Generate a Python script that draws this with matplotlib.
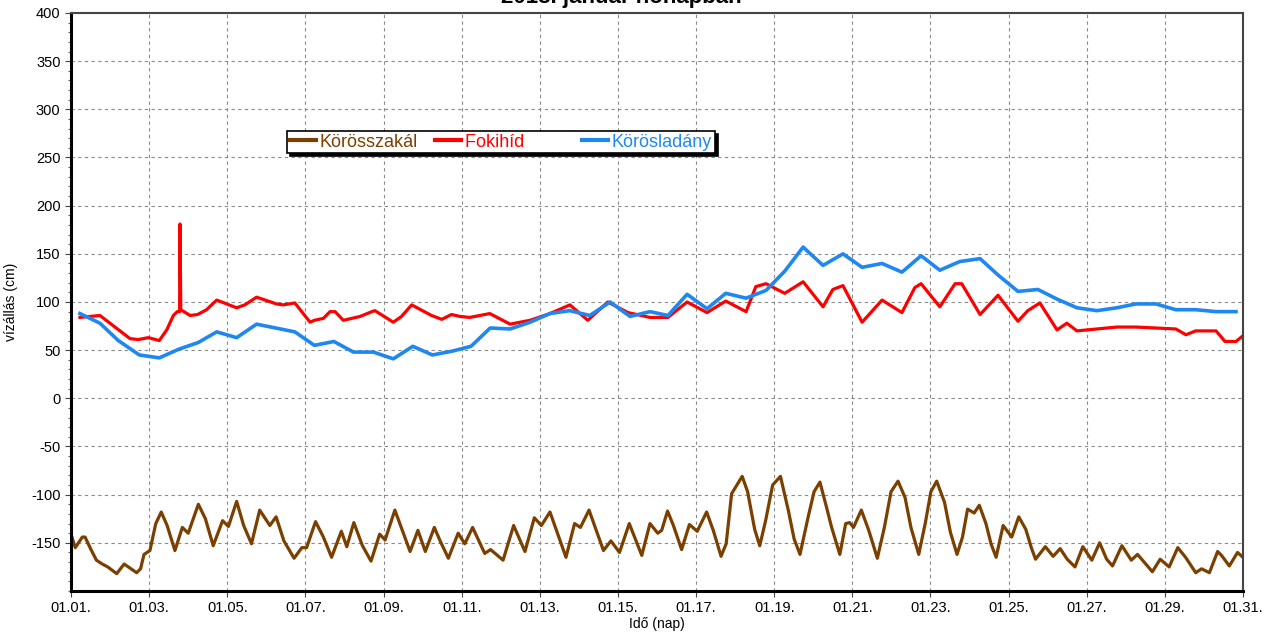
import matplotlib
matplotlib.use("Agg")
import matplotlib.pyplot as plt
from matplotlib.ticker import MultipleLocator

plt.rcParams['font.family'] = ['Liberation Sans', 'DejaVu Sans']
plt.rcParams['axes.unicode_minus'] = False

# napok 01.01. 00:00-tol szamolva
tick_days = list(range(0, 31, 2))
tick_labels = ['01.%02d.' % (d + 1) for d in tick_days]

szakal_days = [0.0, 0.11, 0.29, 0.36, 0.5, 0.65, 0.8, 0.94, 1.17, 1.36, 1.68, 1.78, 1.87, 2.02,
               2.17, 2.31, 2.46, 2.66, 2.85, 3.0, 3.26, 3.44, 3.64, 3.88, 4.03, 4.24, 4.42, 4.62,
               4.83, 5.09, 5.25, 5.45, 5.71, 5.91, 6.03, 6.26, 6.46, 6.67, 6.92, 7.06, 7.24, 7.46,
               7.68, 7.9, 8.04, 8.29, 8.48, 8.68, 8.88, 9.07, 9.3, 9.46, 9.66, 9.91, 10.08, 10.28,
               10.59, 10.74, 11.06, 11.33, 11.62, 11.86, 12.04, 12.26, 12.67, 12.89, 13.04, 13.26,
               13.63, 13.82, 14.04, 14.29, 14.61, 14.82, 15.02, 15.12, 15.27, 15.42, 15.63, 15.83,
               16.03, 16.27, 16.44, 16.64, 16.77, 16.91, 17.18, 17.32, 17.5, 17.63, 17.78, 17.96,
               18.16, 18.36, 18.51, 18.66, 18.87, 19.02, 19.17, 19.32, 19.47, 19.68, 19.83, 19.93,
               20.03, 20.23, 20.42, 20.64, 20.82, 20.99, 21.17, 21.35, 21.5, 21.7, 21.87, 22.01,
               22.16, 22.36, 22.51, 22.68, 22.82, 22.95, 23.12, 23.25, 23.42, 23.55, 23.68, 23.86,
               24.08, 24.26, 24.44, 24.59, 24.69, 24.94, 25.14, 25.32, 25.5, 25.7, 25.9, 26.13,
               26.33, 26.51, 26.66, 26.9, 27.14, 27.3, 27.47, 27.68, 27.88, 28.11, 28.33, 28.53,
               28.79, 28.94, 29.14, 29.35, 29.45, 29.65, 29.86, 30.0]
szakal_cm = [-141, -155, -144, -144, -156, -168, -172, -175, -182, -172, -181, -177, -162, -158,
             -130, -118, -132, -158, -134, -140, -110, -125, -153, -127, -133, -107, -132, -151,
             -116, -132, -123, -148, -166, -155, -155, -128, -144, -165, -138, -154, -129, -153,
             -169, -141, -147, -116, -137, -159, -137, -159, -134, -149, -166, -140, -151, -134,
             -161, -157, -168, -132, -159, -124, -132, -118, -165, -130, -134, -116,
             -158, -148, -160, -130, -163, -130, -140, -137, -117, -132, -157, -131,
             -138, -118, -137, -164, -151, -99, -81, -97, -136, -153, -127, -90,
             -81, -116, -146, -162, -123, -97, -87, -110, -134, -162, -130, -129,
             -134, -116, -137, -166, -134, -97, -86, -103, -134, -162, -129, -97,
             -86, -108, -139, -162, -144, -115, -119, -111, -130, -151, -165, -132,
             -144, -123, -136, -156, -167, -154, -164, -156, -167, -175, -154, -168,
             -150, -167, -174, -153, -168, -162, -170, -180, -167, -175, -155, -165,
             -181, -177, -181, -159, -163, -174, -160, -165]

foki_days = [0.23, 0.74, 1.51, 1.72, 1.98, 2.26, 2.45, 2.62, 2.72, 2.78, 2.79, 2.81, 3.05, 3.24,
             3.47, 3.73, 4.24, 4.45, 4.75, 5.26, 5.43, 5.73, 6.12, 6.23, 6.46, 6.63, 6.76, 6.97,
             7.4, 7.7, 7.78, 8.25, 8.46, 8.72, 9.23, 9.49, 9.74, 9.96, 10.21, 10.72, 11.24, 11.75,
             12.26, 12.77, 13.23, 13.74, 14.26, 14.82, 15.28, 15.77, 16.28, 16.76, 17.28, 17.53,
             17.79, 18.27, 18.74, 19.25, 19.5, 19.76, 20.25, 20.76, 21.27, 21.6, 21.76, 22.24,
             22.63, 22.8, 23.27, 23.73, 24.24, 24.49, 24.8, 25.24, 25.49, 25.75, 26.26, 26.77,
             27.26, 27.77, 28.28, 28.54, 28.79, 29.31, 29.54, 29.82, 29.97]
foki_cm = [84, 86, 62, 61, 63, 60, 71, 86, 90, 90, 181, 92, 86, 87,
           92, 102, 94, 97, 105, 98, 97, 99, 79, 81, 83, 90, 90, 81,
           85, 90, 91, 79, 85, 97, 86, 82, 87, 85, 84, 88, 77, 81,
           88, 97, 81, 100, 89, 84, 84, 100, 89, 101, 90, 116,
           119, 109, 121, 95, 113, 117, 79, 102, 89, 115, 119, 95,
           119, 119, 87, 107, 80, 91, 99, 71, 78, 70, 72, 74,
           74, 73, 72, 66, 70, 70, 59, 59, 64]

lad_days = [0.23, 0.74, 1.21, 1.75, 2.26, 2.76, 3.26, 3.73, 4.24, 4.75, 5.73, 6.23, 6.73, 7.23,
            7.74, 8.25, 8.75, 9.25, 9.76, 10.24, 10.73, 11.24, 11.75, 12.26, 12.77, 13.28, 13.8,
            14.31, 14.82, 15.28, 15.77, 16.28, 16.76, 17.28, 17.79, 18.27, 18.74, 19.25, 19.76,
            20.25, 20.76, 21.27, 21.76, 22.24, 22.75, 23.27, 23.73, 24.24, 24.75, 25.24, 25.75,
            26.26, 26.77, 27.26, 27.77, 28.28, 28.79, 29.31, 29.82]
lad_cm = [88, 78, 60, 45, 42, 51, 58, 69, 63, 77, 69, 55, 59, 48,
          48, 41, 54, 45, 49, 54, 73, 72, 79, 88, 91, 86, 100,
          85, 90, 86, 108, 93, 109, 104, 112, 132, 157, 138, 150,
          136, 140, 131, 148, 133, 142, 145, 128, 111, 113, 103, 94,
          91, 94, 98, 98, 92, 92, 90, 90]

brown = '#7B3F00'
red = '#FF0000'
blue = '#1E88F0'

fig = plt.figure(figsize=(12.8, 6.35), dpi=100)
ax = fig.add_axes([71 / 1280, 1 - 591 / 635, 1172 / 1280, 578 / 635])

l1, = ax.plot(szakal_days, szakal_cm, color=brown, lw=2.3, solid_joinstyle='round', label='Körösszakál')
l2, = ax.plot(foki_days, foki_cm, color=red, lw=2.3, solid_joinstyle='round', label='Fokihíd')
l3, = ax.plot(lad_days, lad_cm, color=blue, lw=2.6, solid_joinstyle='round', label='Körösladány')

ax.set_xlim(0, 30)
ax.set_ylim(-200, 400)
ax.set_xticks(tick_days)
ax.set_xticklabels(tick_labels)
ax.set_yticks(range(-150, 401, 50))
ax.yaxis.set_minor_locator(MultipleLocator(10))
ax.tick_params(axis='both', which='major', labelsize=10.5, length=4, width=0.8, direction='out', colors='#444', labelcolor='black')
ax.tick_params(axis='y', which='minor', length=2.5, width=0.8, colors='#666')
ax.grid(True, which='major', color='#8a8a8a', linestyle=(0, (3, 3)), linewidth=0.8)

for s in ['left', 'bottom']:
    ax.spines[s].set_linewidth(2.2)
    ax.spines[s].set_color('black')
for s in ['top', 'right']:
    ax.spines[s].set_linewidth(1.5)
    ax.spines[s].set_color('#444')

ax.set_ylabel('vízállás (cm)', fontsize=10)
ax.yaxis.set_label_coords(-0.045, 0.5)
ax.set_xlabel('Idő (nap)', fontsize=10, labelpad=1)

fig.text(621 / 1280, 1 - 3 / 635, '2018. január hónapban', ha='center', va='baseline',
         fontsize=16, fontweight='bold')

leg = ax.legend(handles=[l1, l2, l3],
                labels=['Körösszakál', 'Fokihíd' + ' ' * 8, 'Körösladány'],
                ncol=3, loc='upper left', bbox_to_anchor=(287 / 1280, 1 - 131 / 635),
                bbox_transform=fig.transFigure, borderaxespad=0, fontsize=13,
                handlelength=1.45, handletextpad=0.22, columnspacing=0.95,
                borderpad=0.15, fancybox=False, framealpha=1,
                shadow={'color': 'black', 'alpha': 1, 'ox': 2, 'oy': -2})
leg.get_frame().set_edgecolor('black')
leg.get_frame().set_linewidth(1.2)
for t, c in zip(leg.get_texts(), [brown, red, blue]):
    t.set_color(c)
for h in leg.legend_handles:
    h.set_linewidth(3)

fig.savefig('out.png', dpi=100)
